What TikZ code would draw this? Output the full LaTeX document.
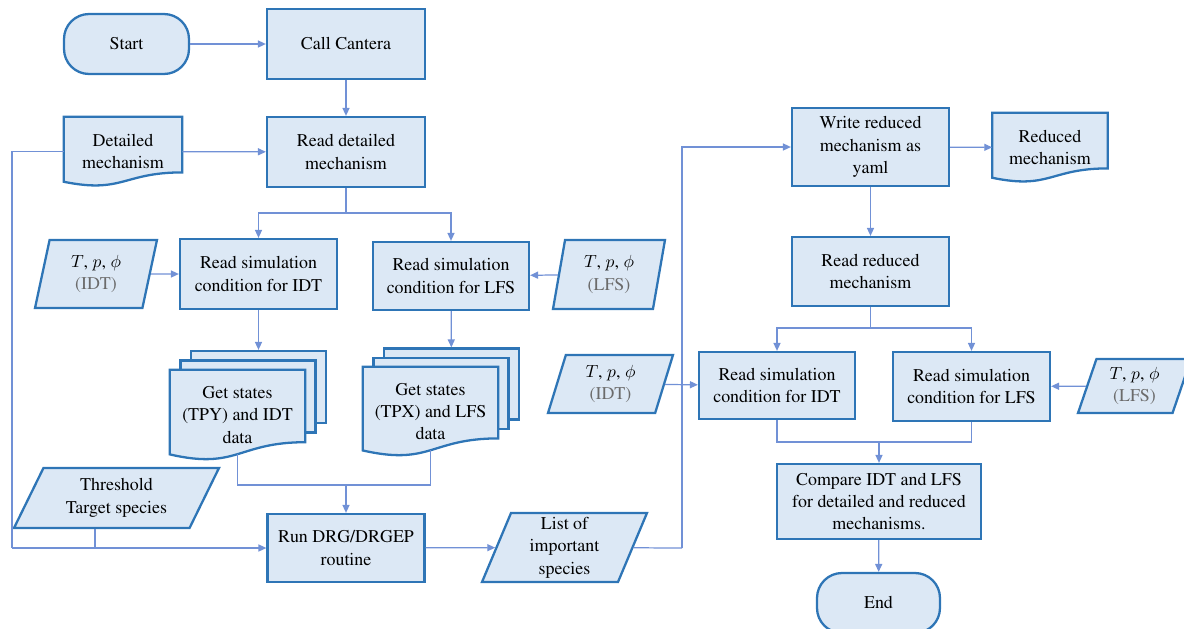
\documentclass[tikz,border=0pt]{standalone}
\usepackage[T1]{fontenc}
\renewcommand{\rmdefault}{ptm}
\usetikzlibrary{shapes.geometric,backgrounds,calc,arrows.meta}

\definecolor{boxline}{HTML}{2E75B6}
\definecolor{boxfill}{HTML}{DCE8F5}
\definecolor{conline}{HTML}{7191D6}
\definecolor{subtext}{HTML}{6B6B6B}

% outline of a document symbol around a (plain) node
\newcommand{\docshape}[1]{%
  \draw[draw=boxline, line width=1.3pt, fill=boxfill]
    (#1.north west) -- (#1.north east)
    -- ($(#1.north east)!0.80!(#1.south east)$)
    .. controls ($(#1.north)!0.80!(#1.south)$) and ($(#1.north)!1.107!(#1.south)$)
    .. ($(#1.north west)!0.934!(#1.south west)$) -- cycle;}

\begin{document}
\begin{tikzpicture}
	[x=0.02cm,y=-0.02cm,
	every node/.style={font=\fontsize{10.2}{12.8}\selectfont, align=center},
	proc/.style={rectangle, draw=boxline, line width=1.3pt, fill=boxfill, minimum width=3.14cm, minimum height=1.4cm, inner sep=1pt},
	term/.style={rectangle, rounded corners=0.5cm, draw=boxline, line width=1.3pt, fill=boxfill, minimum width=2.5cm, minimum height=1.2cm},
	docnode/.style={rectangle, inner sep=0pt, minimum width=2.7cm, minimum height=1.8cm},
	page/.style={rectangle, draw=boxline, line width=1.3pt, fill=boxfill, minimum width=2.7cm, minimum height=1.44cm},
	data/.style={trapezium, trapezium stretches body, draw=boxline, line width=1.3pt, fill=boxfill, inner sep=1pt},
	con/.style={draw=conline, line width=0.7pt},
	arr/.style={con, -{Triangle[length=4.5pt,width=4pt]}}]
	\useasboundingbox (0,0) rectangle (1184,629);

	% left column
	\node[term] (start) at (126.5,44) {Start};
	\node[proc, minimum width=3.16cm] (cant) at (346,44) {Call Cantera};
	\node[proc, minimum width=3.16cm] (rdm) at (346,152) {Read detailed\\mechanism};
	\node[docnode, minimum width=2.36cm, minimum height=1.38cm] (dm) at (123,151.5) {Detailed\\mechanism};

	\node[proc] (sidt) at (258.5,274) {Read simulation\\condition for IDT};
	\node[proc, minimum width=3.12cm, minimum height=1.36cm] (slfs) at (451,276) {Read simulation\\condition for LFS};
	\node[data, trapezium left angle=70.6, trapezium right angle=109.4, minimum width=2.44cm, minimum height=1.36cm] (pidt) at (96,274) {$T$, $p$, $\phi$\\\textcolor{subtext}{(IDT)}};
	\node[data, trapezium left angle=73.8, trapezium right angle=106.2, minimum width=2.24cm, minimum height=1.38cm] (plfs) at (609,274.5) {$T$, $p$, $\phi$\\\textcolor{subtext}{(LFS)}};

	\node[docnode] (tpy) at (237.5,415) {Get states\\(TPY) and IDT\\data};
	\node[docnode, minimum height=1.78cm] (tpx) at (430.5,411.5) {Get states\\(TPX) and LFS\\data};

	\node[data, trapezium left angle=55, trapezium right angle=125, minimum width=4.1cm, minimum height=1.2cm] (thr) at (116.5,498) {Threshold\\Target species};
	\node[proc, minimum height=1.36cm] (run) at (346,548) {Run DRG/DRGEP\\routine};
	\node[data, trapezium left angle=65.8, trapezium right angle=114.2, minimum width=3.3cm, minimum height=1.38cm] (lst) at (564.5,547.5) {List of\\important\\species};

	% right column
	\node[proc, minimum height=1.56cm] (wrm) at (870.5,147) {Write reduced\\mechanism as\\yaml};
	\node[docnode, minimum width=2.3cm, minimum height=1.38cm] (rdoc) at (1050,147.5) {Reduced\\mechanism};
	\node[proc, minimum height=1.38cm] (rrm) at (870.5,271.5) {Read reduced\\mechanism};
	\node[proc, minimum width=3.12cm, minimum height=1.34cm] (sidt2) at (777,385.5) {Read simulation\\condition for IDT};
	\node[proc, minimum height=1.38cm] (slfs2) at (971.5,386.5) {Read simulation\\condition for LFS};
	\node[data, trapezium left angle=66.7, trapezium right angle=113.3, minimum width=2.5cm, minimum height=1.16cm] (pidt2) at (610.5,384) {$T$, $p$, $\phi$\\\textcolor{subtext}{(IDT)}};
	\node[data, trapezium left angle=66, trapezium right angle=114, minimum width=2.26cm, minimum height=1.08cm] (plfs2) at (1134.5,386) {$T$, $p$, $\phi$\\\textcolor{subtext}{(LFS)}};
	\node[proc, minimum width=4.08cm, minimum height=1.5cm] (cmp) at (879,501.5) {Compare IDT and LFS\\for detailed and reduced\\mechanisms.};
	\node[term, minimum width=2.46cm] (endn) at (878.5,603) {End};

	% document symbols behind the texts
	\begin{scope}[on background layer]
	\docshape{dm}
	\docshape{rdoc}
	\node[page] (tpy3) at (258.5,387) {};
	\node[page] (tpy2) at (248,396.5) {};
	\docshape{tpy}
	\node[page, minimum height=1.42cm] (tpx3) at (451.5,384) {};
	\node[page, minimum height=1.42cm] (tpx2) at (441,393.5) {};
	\docshape{tpx}
	\end{scope}

	\coordinate (s1) at (346,213);
	\coordinate (m1) at (346,485);
	\coordinate (lc) at (12,548);
	\coordinate (tc) at (95,548);
	\coordinate (rc) at (682,548);
	\coordinate (s2) at (870.5,328);
	\coordinate (m2) at (879,442);

	\draw[arr] (start) -- (cant);
	\draw[arr] (cant) -- (rdm);
	\draw[arr] (dm) -- (rdm);
	\draw[con] (rdm) -- (s1);
	\draw[arr] (s1) -| (sidt);
	\draw[arr] (s1) -| (slfs);
	\draw[arr] (pidt) -- (sidt);
	\draw[arr] (plfs) -- (slfs);
	\draw[arr] (sidt) -- (tpy3);
	\draw[arr] (slfs) -- (tpx3);
	\draw[con] ($(tpy.north)!0.933!(tpy.south)$) |- (m1) -| ($(tpx.north)!0.933!(tpx.south)$);
	\draw[arr] (m1) -- (run);
	\draw[con] (dm.west) -| (lc);
	\draw[arr] (lc) -- (run);
	\draw[con] (thr.south -| tc) -- (tc);
	\draw[arr] (run) -- (lst);
	\draw[con] (lst) -- (rc);
	\draw[arr] (rc) |- (wrm);
	\draw[arr] (wrm) -- (rdoc);
	\draw[arr] (wrm) -- (rrm);
	\draw[con] (rrm) -- (s2);
	\draw[arr] (s2) -| (sidt2);
	\draw[arr] (s2) -| (slfs2);
	\draw[arr] (pidt2) -- (sidt2);
	\draw[arr] (plfs2) -- (slfs2);
	\draw[con] (sidt2) |- (m2) -| (slfs2);
	\draw[arr] (m2) -- (cmp);
	\draw[arr] (cmp) -- (endn);
\end{tikzpicture}
\end{document}
